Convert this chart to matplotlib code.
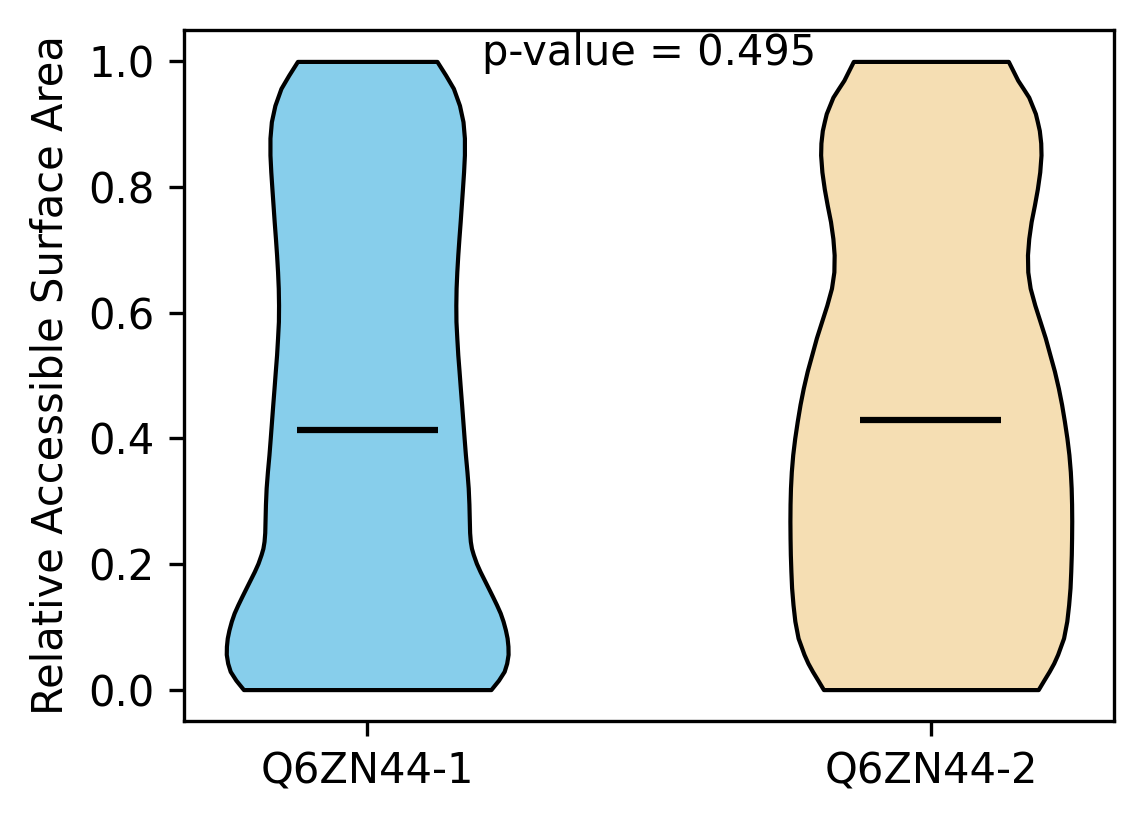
import matplotlib
matplotlib.use('Agg')
import matplotlib.pyplot as plt
import numpy as np

# etiquetas de los grupos
grupos = ['Q6ZN44-1', 'Q6ZN44-2']
colores = ['skyblue', 'wheat']

# perfil de densidad (nivel de RSA, ancho relativo)
niveles_1 = [1.000, 0.978, 0.957, 0.930, 0.904, 0.878, 0.851, 0.824, 0.797, 0.771,
             0.745, 0.718, 0.692, 0.665, 0.639, 0.612, 0.586, 0.560, 0.533, 0.507,
             0.480, 0.454, 0.427, 0.400, 0.374, 0.347, 0.321, 0.295, 0.268, 0.250,
             0.236, 0.225, 0.215, 0.201, 0.188, 0.175, 0.162, 0.148, 0.135, 0.122,
             0.109, 0.095, 0.082, 0.069, 0.056, 0.042, 0.029, 0.015, 0.000]
densidad_1 = [0.495, 0.557, 0.612, 0.655, 0.680, 0.690, 0.690, 0.684, 0.676, 0.668,
              0.660, 0.651, 0.643, 0.636, 0.631, 0.629, 0.630, 0.636, 0.643, 0.652,
              0.661, 0.670, 0.679, 0.688, 0.697, 0.708, 0.717, 0.722, 0.725, 0.727,
              0.732, 0.740, 0.753, 0.775, 0.801, 0.830, 0.859, 0.890, 0.918, 0.944,
              0.964, 0.981, 0.993, 0.999, 1.000, 0.990, 0.972, 0.932, 0.878]

niveles_2 = [1.000, 0.970, 0.957, 0.943, 0.917, 0.904, 0.890, 0.870, 0.851, 0.824,
             0.797, 0.771, 0.745, 0.718, 0.692, 0.665, 0.639, 0.612, 0.586, 0.560,
             0.533, 0.507, 0.480, 0.454, 0.427, 0.400, 0.374, 0.347, 0.321, 0.295,
             0.268, 0.241, 0.215, 0.188, 0.162, 0.135, 0.109, 0.082, 0.056, 0.042,
             0.029, 0.015, 0.000]
densidad_2 = [0.550, 0.617, 0.655, 0.695, 0.742, 0.756, 0.770, 0.780, 0.782, 0.773,
              0.756, 0.735, 0.712, 0.695, 0.686, 0.688, 0.705, 0.738, 0.775, 0.812,
              0.845, 0.877, 0.905, 0.928, 0.948, 0.966, 0.980, 0.990, 0.996, 0.999,
              1.000, 0.999, 0.997, 0.993, 0.988, 0.978, 0.965, 0.942, 0.900, 0.872,
              0.840, 0.802, 0.762]

medias = [0.413, 0.429]
medianas = [0.35, 0.40]
p_valor = 0.495


def armar_stats(niveles, densidad, media, mediana):
    return {'coords': np.array(niveles), 'vals': np.array(densidad),
            'mean': media, 'median': mediana,
            'min': min(niveles), 'max': max(niveles)}


vpstats = [armar_stats(niveles_1, densidad_1, medias[0], medianas[0]),
           armar_stats(niveles_2, densidad_2, medias[1], medianas[1])]

fig = plt.figure(figsize=(1144 / 300, 824 / 300), dpi=300)
ax = fig.add_axes([184 / 1144, 1 - 721 / 824, (1114 - 184) / 1144, (721 - 30) / 824])

partes = ax.violin(vpstats, positions=[1, 2], widths=0.5,
                   showmeans=True, showextrema=False, showmedians=False)

for cuerpo, color in zip(partes['bodies'], colores):
    cuerpo.set_facecolor(color)
    cuerpo.set_edgecolor('black')
    cuerpo.set_linewidth(1.0)
    cuerpo.set_alpha(1)
partes['cmeans'].set_color('black')
partes['cmeans'].set_linewidth(1.5)

ax.set_xticks([1, 2])
ax.set_xticklabels(grupos)
ax.set_ylabel('Relative Accessible Surface Area')
ax.text(1.5, 0.994, f'p-value = {p_valor}', ha='center', va='baseline', fontsize=10)

fig.savefig('out.png', dpi=300)
